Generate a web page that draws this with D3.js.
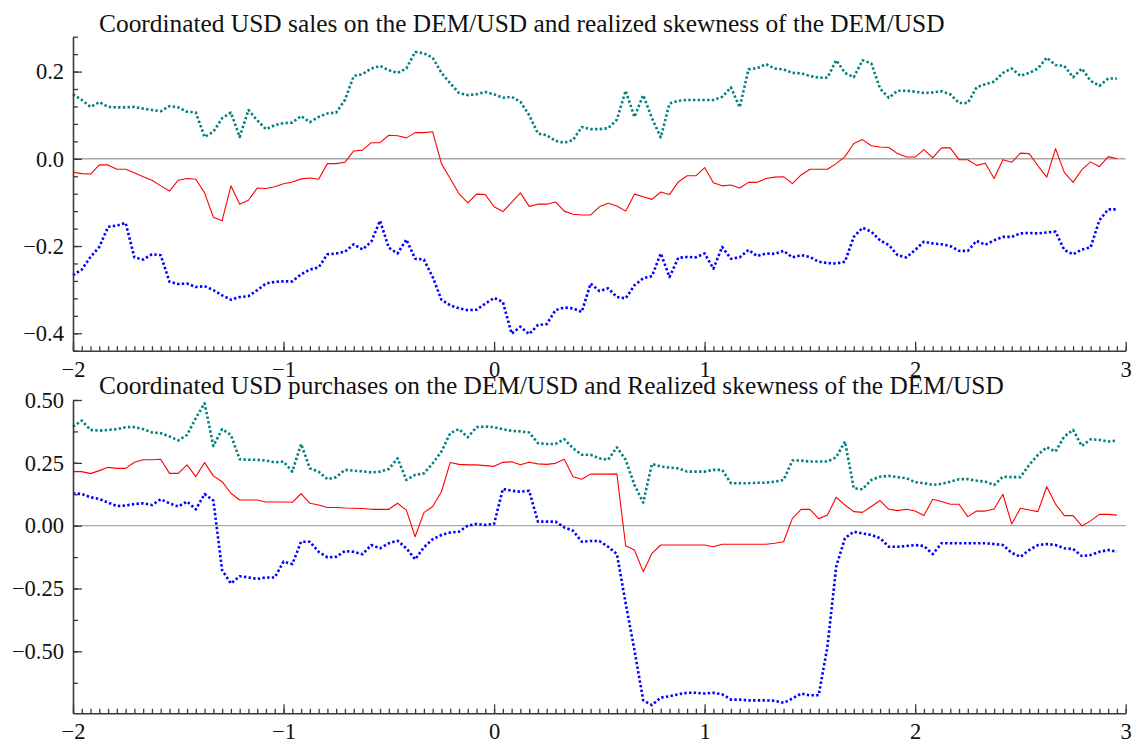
<!DOCTYPE html>
<html>
<head>
<meta charset="utf-8">
<script src="https://cdn.jsdelivr.net/npm/d3@7"></script>
<style>
  body { margin: 0; background: #fff; }
  svg { display: block; }
  svg text { font-family: "Liberation Serif", "Times New Roman", serif; }
</style>
</head>
<body>
<div id="chart"></div>
<script>
// 数据：横轴每 1/24 一个点，从 -2 开始，共 120 个点
const nPoints = 120;
const xStart = -2;
const xStep = 1 / 24;

const titles = [
    "Coordinated USD sales on the DEM/USD and realized skewness of the DEM/USD",
    "Coordinated USD purchases on the DEM/USD and Realized skewness of the DEM/USD"
];

const xTicks = [-2, -1, 0, 1, 2, 3];

// 上图
const topTicks = [-0.4, -0.2, 0, 0.2];
const topRed = [
    -0.031, -0.034, -0.035, -0.014, -0.014, -0.024, -0.024, -0.032, -0.041, -0.049,
    -0.062, -0.074, -0.049, -0.045, -0.047, -0.078, -0.134, -0.142, -0.062, -0.104,
    -0.095, -0.067, -0.068, -0.064, -0.057, -0.053, -0.046, -0.044, -0.047, -0.011,
    -0.011, -0.008, 0.018, 0.020, 0.037, 0.037, 0.054, 0.053, 0.048, 0.060,
    0.060, 0.062, -0.011, -0.045, -0.080, -0.101, -0.081, -0.082, -0.110, -0.121,
    -0.100, -0.078, -0.109, -0.104, -0.104, -0.099, -0.120, -0.127, -0.129, -0.129,
    -0.110, -0.102, -0.108, -0.120, -0.081, -0.087, -0.093, -0.076, -0.082, -0.053,
    -0.039, -0.039, -0.020, -0.055, -0.062, -0.060, -0.067, -0.054, -0.054, -0.045,
    -0.042, -0.041, -0.057, -0.037, -0.024, -0.024, -0.024, -0.011, 0.005, 0.035,
    0.044, 0.030, 0.027, 0.026, 0.012, 0.004, 0.004, 0.021, 0.002, 0.025,
    0.025, -0.002, -0.002, -0.015, -0.010, -0.045, -0.002, -0.008, 0.013, 0.012,
    -0.016, -0.042, 0.023, -0.031, -0.054, -0.025, -0.007, -0.018, 0.005, 0.000
];
const topTeal = [
    0.148, 0.135, 0.119, 0.130, 0.119, 0.118, 0.118, 0.119, 0.115, 0.112,
    0.109, 0.121, 0.118, 0.108, 0.106, 0.050, 0.062, 0.093, 0.106, 0.050,
    0.112, 0.088, 0.068, 0.077, 0.082, 0.083, 0.098, 0.084, 0.096, 0.104,
    0.106, 0.135, 0.190, 0.194, 0.207, 0.213, 0.203, 0.197, 0.207, 0.245,
    0.242, 0.232, 0.197, 0.173, 0.151, 0.146, 0.148, 0.153, 0.148, 0.140,
    0.142, 0.131, 0.100, 0.058, 0.054, 0.041, 0.037, 0.043, 0.073, 0.068,
    0.068, 0.070, 0.090, 0.156, 0.096, 0.146, 0.093, 0.049, 0.127, 0.133,
    0.135, 0.135, 0.135, 0.135, 0.142, 0.164, 0.118, 0.205, 0.208, 0.217,
    0.207, 0.205, 0.197, 0.196, 0.190, 0.186, 0.186, 0.226, 0.197, 0.187,
    0.226, 0.219, 0.161, 0.140, 0.156, 0.156, 0.154, 0.151, 0.152, 0.155,
    0.148, 0.128, 0.128, 0.164, 0.171, 0.177, 0.197, 0.207, 0.190, 0.197,
    0.207, 0.232, 0.215, 0.213, 0.187, 0.207, 0.179, 0.167, 0.184, 0.184
];
const topBlue = [
    -0.267, -0.254, -0.225, -0.202, -0.156, -0.153, -0.147, -0.226, -0.231, -0.219,
    -0.221, -0.282, -0.287, -0.286, -0.294, -0.292, -0.301, -0.313, -0.323, -0.317,
    -0.315, -0.301, -0.286, -0.282, -0.281, -0.281, -0.265, -0.254, -0.249, -0.219,
    -0.217, -0.213, -0.196, -0.208, -0.190, -0.142, -0.204, -0.217, -0.185, -0.229,
    -0.231, -0.271, -0.323, -0.336, -0.343, -0.347, -0.346, -0.332, -0.319, -0.328,
    -0.401, -0.385, -0.402, -0.381, -0.379, -0.347, -0.341, -0.343, -0.351, -0.286,
    -0.303, -0.297, -0.317, -0.320, -0.290, -0.274, -0.269, -0.217, -0.271, -0.227,
    -0.225, -0.226, -0.217, -0.252, -0.202, -0.229, -0.226, -0.209, -0.223, -0.217,
    -0.218, -0.211, -0.226, -0.221, -0.225, -0.236, -0.239, -0.240, -0.236, -0.179,
    -0.158, -0.167, -0.187, -0.198, -0.221, -0.226, -0.209, -0.190, -0.194, -0.196,
    -0.200, -0.211, -0.211, -0.188, -0.197, -0.187, -0.179, -0.179, -0.171, -0.170,
    -0.171, -0.169, -0.167, -0.209, -0.219, -0.208, -0.203, -0.141, -0.116, -0.116
];

// 下图
const botTicks = [-0.5, -0.25, 0, 0.25, 0.5];
const botRed = [
    0.215, 0.215, 0.207, 0.219, 0.232, 0.228, 0.228, 0.252, 0.262, 0.262,
    0.264, 0.208, 0.208, 0.242, 0.195, 0.251, 0.198, 0.175, 0.129, 0.102,
    0.102, 0.102, 0.094, 0.094, 0.094, 0.093, 0.127, 0.089, 0.082, 0.072,
    0.072, 0.070, 0.069, 0.068, 0.065, 0.065, 0.065, 0.089, 0.062, -0.044,
    0.052, 0.076, 0.135, 0.251, 0.244, 0.242, 0.242, 0.239, 0.236, 0.252,
    0.254, 0.242, 0.252, 0.246, 0.244, 0.248, 0.264, 0.195, 0.185, 0.205,
    0.205, 0.205, 0.206, -0.080, -0.097, -0.183, -0.110, -0.077, -0.077, -0.077,
    -0.077, -0.077, -0.077, -0.084, -0.074, -0.074, -0.074, -0.074, -0.074, -0.074,
    -0.070, -0.064, 0.029, 0.065, 0.065, 0.028, 0.042, 0.113, 0.082, 0.056,
    0.053, 0.076, 0.100, 0.065, 0.060, 0.065, 0.058, 0.040, 0.105, 0.096,
    0.085, 0.085, 0.036, 0.058, 0.058, 0.066, 0.125, 0.007, 0.069, 0.062,
    0.056, 0.155, 0.086, 0.040, 0.040, -0.001, 0.019, 0.045, 0.045, 0.042
];
const botTeal = [
    0.394, 0.418, 0.381, 0.378, 0.381, 0.384, 0.392, 0.392, 0.384, 0.371,
    0.368, 0.355, 0.339, 0.361, 0.428, 0.487, 0.317, 0.384, 0.361, 0.264,
    0.262, 0.262, 0.259, 0.252, 0.255, 0.215, 0.325, 0.228, 0.215, 0.185,
    0.193, 0.222, 0.219, 0.216, 0.212, 0.215, 0.225, 0.268, 0.182, 0.202,
    0.208, 0.248, 0.295, 0.368, 0.384, 0.352, 0.392, 0.394, 0.392, 0.384,
    0.377, 0.375, 0.371, 0.328, 0.325, 0.325, 0.344, 0.308, 0.282, 0.282,
    0.268, 0.262, 0.312, 0.262, 0.162, 0.092, 0.246, 0.235, 0.231, 0.228,
    0.215, 0.215, 0.215, 0.222, 0.222, 0.169, 0.169, 0.169, 0.171, 0.171,
    0.175, 0.182, 0.259, 0.259, 0.255, 0.255, 0.255, 0.272, 0.335, 0.149,
    0.145, 0.182, 0.195, 0.198, 0.193, 0.189, 0.173, 0.169, 0.162, 0.166,
    0.175, 0.185, 0.185, 0.179, 0.175, 0.162, 0.195, 0.193, 0.193, 0.242,
    0.282, 0.312, 0.295, 0.355, 0.381, 0.317, 0.344, 0.341, 0.335, 0.339
];
const botBlue = [
    0.129, 0.126, 0.113, 0.106, 0.092, 0.078, 0.080, 0.086, 0.089, 0.082,
    0.105, 0.089, 0.076, 0.096, 0.065, 0.126, 0.100, -0.177, -0.230, -0.201,
    -0.206, -0.212, -0.206, -0.206, -0.143, -0.153, -0.064, -0.064, -0.104, -0.126,
    -0.124, -0.101, -0.104, -0.114, -0.077, -0.090, -0.070, -0.060, -0.090, -0.134,
    -0.086, -0.054, -0.037, -0.027, -0.024, 0.000, 0.007, 0.003, 0.007, 0.146,
    0.139, 0.135, 0.139, 0.016, 0.016, 0.016, -0.007, -0.020, -0.064, -0.061,
    -0.061, -0.084, -0.113, -0.309, -0.495, -0.695, -0.714, -0.684, -0.679, -0.671,
    -0.665, -0.665, -0.668, -0.665, -0.671, -0.692, -0.692, -0.695, -0.695, -0.695,
    -0.697, -0.705, -0.688, -0.668, -0.675, -0.675, -0.482, -0.163, -0.050, -0.024,
    -0.031, -0.037, -0.050, -0.084, -0.084, -0.081, -0.077, -0.081, -0.113, -0.070,
    -0.070, -0.070, -0.070, -0.070, -0.070, -0.073, -0.077, -0.108, -0.124, -0.097,
    -0.077, -0.073, -0.077, -0.090, -0.093, -0.121, -0.117, -0.104, -0.097, -0.104
];

const width = 1139;
const height = 746;
const serif = "'Liberation Serif', 'Times New Roman', serif";
const tealColor = "#008080";
const axisColor = "#3a3a3a";

const svg = d3.select("#chart")
    .append("svg")
    .attr("width", width)
    .attr("height", height)
    .attr("font-family", serif);

const xs = d3.range(nPoints).map(i => xStart + i * xStep);

function drawPanel(p) {
    const g = svg.append("g");

    const x = d3.scaleLinear().domain([-2, 3]).range([73, 1125.7]);
    const y = d3.scaleLinear().domain(p.yDomain).range(p.yRange);

    // 零线
    g.append("line")
        .attr("x1", x(-2)).attr("x2", x(3))
        .attr("y1", y(0)).attr("y2", y(0))
        .attr("stroke", "#a8a8a8")
        .attr("stroke-width", 1.4);

    const line = d3.line()
        .x((d, i) => x(xs[i]))
        .y(d => y(d));

    // 三条线
    p.series.forEach(s => {
        g.append("path")
            .datum(s.values)
            .attr("fill", "none")
            .attr("stroke", s.color)
            .attr("stroke-width", s.dotted ? 2.6 : 1.1)
            .attr("stroke-dasharray", s.dotted ? "2.4,2.3" : null)
            .attr("stroke-linejoin", "round")
            .attr("d", line);
    });

    // X轴（刻度朝内）
    const xMinor = d3.range(0, 121).map(k => -2 + k / 24);
    g.append("g")
        .attr("transform", `translate(0,${p.yRange[0]})`)
        .call(d3.axisBottom(x).tickValues(xMinor).tickSize(-4.5).tickSizeOuter(0).tickFormat(""))
        .call(a => a.select(".domain").remove());
    g.append("g")
        .attr("transform", `translate(0,${p.yRange[0]})`)
        .call(d3.axisBottom(x).tickValues(xTicks).tickSize(-9).tickSizeOuter(0)
            .tickPadding(10).tickFormat(d3.format("d")));

    // Y轴
    g.append("g")
        .attr("transform", `translate(${x(-2)},0)`)
        .call(d3.axisLeft(y).tickValues(p.yMinor).tickSize(-5).tickSizeOuter(0).tickFormat(""))
        .call(a => a.select(".domain").remove());
    g.append("g")
        .attr("transform", `translate(${x(-2)},0)`)
        .call(d3.axisLeft(y).tickValues(p.yTicks).tickSize(-9).tickSizeOuter(0)
            .tickPadding(9).tickFormat(d3.format(p.fmt)));

    g.selectAll(".tick line").attr("stroke", axisColor).attr("stroke-width", 1.3);
    g.selectAll(".domain").attr("stroke", axisColor).attr("stroke-width", 1.6);
    g.selectAll("g").attr("font-family", serif);
    g.selectAll(".tick text")
        .attr("font-family", serif)
        .attr("font-size", 22.5)
        .attr("fill", "#111");

    // 标题
    svg.append("text")
        .attr("x", 99)
        .attr("y", p.titleY)
        .attr("font-family", serif)
        .attr("font-size", 25.4)
        .attr("fill", "#111")
        .text(p.title);
}

drawPanel({
    title: titles[0],
    titleY: 32,
    yDomain: [-0.44, 0.28],
    yRange: [350.7, 36.7],
    yTicks: topTicks,
    yMinor: d3.range(-11, 8).map(k => k * 0.04),
    fmt: ".1f",
    series: [
        {values: topTeal, color: tealColor, dotted: true},
        {values: topBlue, color: "#0000ff", dotted: true},
        {values: topRed, color: "#ff0000", dotted: false}
    ]
});

drawPanel({
    title: titles[1],
    titleY: 394,
    yDomain: [-0.7466, 0.5],
    yRange: [713.3, 400],
    yTicks: botTicks,
    yMinor: d3.range(-5, 5).map(k => k * 0.125),
    fmt: ".2f",
    series: [
        {values: botTeal, color: tealColor, dotted: true},
        {values: botBlue, color: "#0000ff", dotted: true},
        {values: botRed, color: "#ff0000", dotted: false}
    ]
});
</script>
</body>
</html>
